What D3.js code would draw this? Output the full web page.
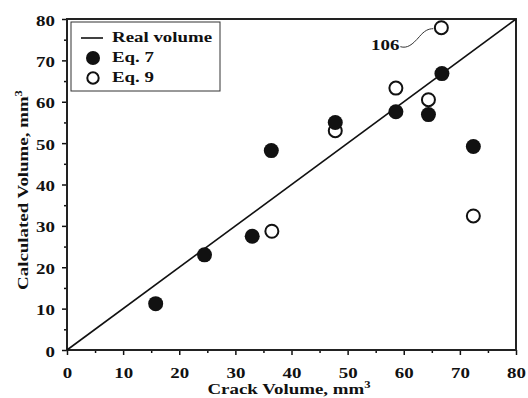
<!DOCTYPE html>
<html>
<head>
<meta charset="utf-8">
<script src="https://cdn.jsdelivr.net/npm/d3@7"></script>
<style>
  body { margin: 0; background: #fff; }
  text { font-family: "Liberation Serif", "Times New Roman", serif; font-weight: bold; fill: #111; }
</style>
</head>
<body>
<svg id="chart"></svg>
<script>
// Data
const crackVolume = [15.8, 24.5, 33.0, 36.4, 47.8, 58.6, 64.4, 66.8, 72.4];
const eq7Values   = [11.2, 23.0, 27.5, 48.2, 55.0, 57.6, 56.9, 66.8, 49.2];
const eq9Crack    = [36.5, 47.8, 58.6, 64.4, 66.7, 72.4];
const eq9Values   = [28.7, 53.0, 63.3, 60.5, 77.9, 32.4];
const realLine    = [0, 80];
const xTicks = [0, 10, 20, 30, 40, 50, 60, 70, 80];
const yTicks = [0, 10, 20, 30, 40, 50, 60, 70, 80];
const labelPoint = {x: 66.7, y: 77.9, text: '106'};
const legendLabels = ['Real volume', 'Eq. 7', 'Eq. 9'];

const width = 528, height = 398;
const margin = {top: 19, right: 12, bottom: 48, left: 67};
const fontSize = 15;
const sx = 1.26;  // the source text is horizontally stretched

const svg = d3.select('#chart')
    .attr('width', width)
    .attr('height', height);

const innerW = width - margin.left - margin.right;
const innerH = height - margin.top - margin.bottom;

const chart = svg.append('g')
    .attr('transform', `translate(${margin.left},${margin.top})`);

const xScale = d3.scaleLinear().domain([0, 80]).range([0, innerW]);
const yScale = d3.scaleLinear().domain([0, 80]).range([innerH, 0]);

// text placed at (x,y) in parent, stretched horizontally
function stretchedText(parent, x, y, anchor) {
  return parent.append('g')
      .attr('transform', `translate(${x},${y})`)
    .append('text')
      .attr('transform', `scale(${sx},1)`)
      .attr('text-anchor', anchor || 'start')
      .attr('font-size', fontSize);
}

// minor ticks
const minor = d3.range(5, 80, 10);
chart.append('g')
    .attr('transform', `translate(0,${innerH})`)
    .call(d3.axisBottom(xScale).tickValues(minor).tickSize(3).tickFormat(''))
    .call(g => g.select('.domain').remove())
    .selectAll('line').attr('stroke', '#111').attr('stroke-width', 1.5);
chart.append('g')
    .call(d3.axisLeft(yScale).tickValues(minor).tickSize(3).tickFormat(''))
    .call(g => g.select('.domain').remove())
    .selectAll('line').attr('stroke', '#111').attr('stroke-width', 1.5);

// major axes
const xAxisG = chart.append('g')
    .attr('transform', `translate(0,${innerH})`)
    .call(d3.axisBottom(xScale).tickValues(xTicks).tickSize(5).tickSizeOuter(0));
const yAxisG = chart.append('g')
    .call(d3.axisLeft(yScale).tickValues(yTicks).tickSize(5).tickSizeOuter(0));

[xAxisG, yAxisG].forEach(g => {
  g.select('.domain').remove();
  g.selectAll('line').attr('stroke', '#111').attr('stroke-width', 1.5);
  g.selectAll('text')
      .attr('font-size', fontSize)
      .attr('font-family', '"Liberation Serif", serif')
      .attr('font-weight', 'bold')
      .attr('fill', '#111')
      .attr('transform', `scale(${sx},1)`);
});
xAxisG.selectAll('text').attr('y', 28).attr('dy', 0);
yAxisG.selectAll('text').attr('x', -12 / sx).attr('dy', '0.4em');

// frame
chart.append('rect')
    .attr('width', innerW)
    .attr('height', innerH)
    .attr('fill', 'none')
    .attr('stroke', '#222')
    .attr('stroke-width', 2);

// real volume line
chart.append('line')
    .attr('x1', xScale(realLine[0]))
    .attr('y1', yScale(realLine[0]))
    .attr('x2', xScale(realLine[1]))
    .attr('y2', yScale(realLine[1]))
    .attr('stroke', '#111')
    .attr('stroke-width', 1.6);

// Eq. 9 (open)
chart.selectAll('.eq9')
    .data(eq9Crack)
  .join('circle')
    .attr('class', 'eq9')
    .attr('cx', d => xScale(d))
    .attr('cy', (d, i) => yScale(eq9Values[i]))
    .attr('r', 6.5)
    .attr('fill', '#fff')
    .attr('stroke', '#111')
    .attr('stroke-width', 2);

// Eq. 7 (filled)
chart.selectAll('.eq7')
    .data(crackVolume)
  .join('circle')
    .attr('class', 'eq7')
    .attr('cx', d => xScale(d))
    .attr('cy', (d, i) => yScale(eq7Values[i]))
    .attr('r', 7.5)
    .attr('fill', '#111');

// label 106 with curly leader
const lx = xScale(labelPoint.x), ly = yScale(labelPoint.y);
chart.append('path')
    .attr('d', `M${lx - 41},${ly + 19} C${lx - 34},${ly + 21} ${lx - 29},${ly + 17} ${lx - 22},${ly + 9} C${lx - 17},${ly + 3} ${lx - 13},${ly + 1} ${lx - 8},${ly + 1}`)
    .attr('fill', 'none')
    .attr('stroke', '#333')
    .attr('stroke-width', 1);
stretchedText(chart, lx - 42, ly + 22, 'end').text(labelPoint.text);

// legend
const legend = chart.append('g').attr('transform', 'translate(4,3)');
legend.append('rect')
    .attr('width', 149)
    .attr('height', 69)
    .attr('fill', '#fff')
    .attr('stroke', '#333')
    .attr('stroke-width', 1);
legend.append('line')
    .attr('x1', 10).attr('x2', 32)
    .attr('y1', 16).attr('y2', 16)
    .attr('stroke', '#111').attr('stroke-width', 1.6);
legend.append('circle')
    .attr('cx', 22).attr('cy', 36).attr('r', 7)
    .attr('fill', '#111');
legend.append('circle')
    .attr('cx', 22).attr('cy', 56).attr('r', 5.7)
    .attr('fill', '#fff').attr('stroke', '#111').attr('stroke-width', 2);
legendLabels.forEach((d, i) => {
  stretchedText(legend, 41, 20 + i * 20).text(d);
});

// axis titles
stretchedText(svg, 289, 394, 'middle')
    .html('Crack Volume, mm<tspan dy="-6" font-size="10">3</tspan>');

svg.append('g')
    .attr('transform', `translate(28,190) rotate(-90)`)
  .append('text')
    .attr('transform', `scale(${sx},1)`)
    .attr('text-anchor', 'middle')
    .attr('font-size', fontSize)
    .html('Calculated Volume, mm<tspan dy="-6" font-size="10">3</tspan>');
</script>
</body>
</html>
